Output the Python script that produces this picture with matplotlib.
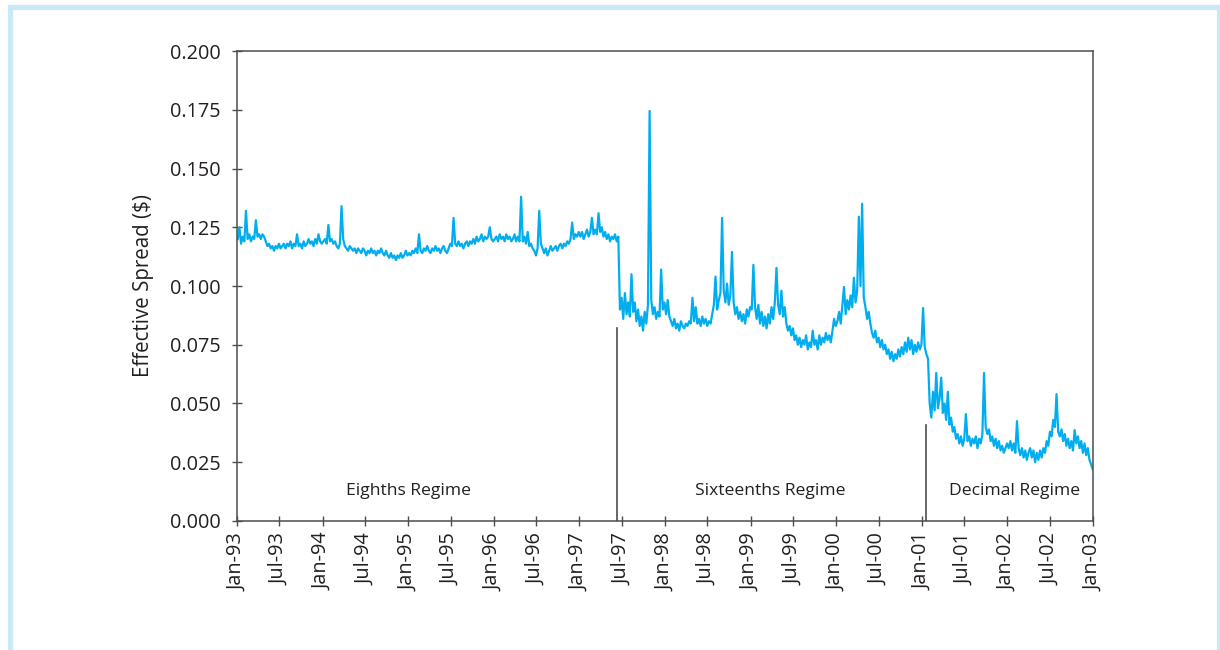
import matplotlib
matplotlib.use("Agg")
import matplotlib.pyplot as plt
import matplotlib.dates as mdates
import matplotlib.patches as patches
import pandas as pd

plt.rcParams['font.family'] = ['Open Sans', 'DejaVu Sans']

# weekly effective spread ($), one list per year
s1993 = [0.120, 0.125, 0.118, 0.121, 0.119, 0.132, 0.120, 0.122, 0.119, 0.121, 0.120, 0.128, 0.121,
         0.122, 0.120, 0.122, 0.121, 0.119, 0.117, 0.118, 0.116, 0.117, 0.115, 0.117, 0.116, 0.118,
         0.116, 0.117, 0.118, 0.116, 0.118, 0.117, 0.119, 0.116, 0.118, 0.117, 0.122, 0.117, 0.118,
         0.116, 0.119, 0.117, 0.118, 0.120, 0.118, 0.119, 0.117, 0.120, 0.118, 0.122, 0.119, 0.118]
s1994 = [0.119, 0.120, 0.118, 0.126, 0.119, 0.120, 0.118, 0.119, 0.117, 0.116, 0.118, 0.134, 0.120,
         0.117, 0.116, 0.115, 0.117, 0.116, 0.115, 0.116, 0.114, 0.116, 0.115, 0.114, 0.116, 0.115,
         0.113, 0.115, 0.114, 0.116, 0.114, 0.115, 0.113, 0.115, 0.114, 0.116, 0.114, 0.113, 0.115,
         0.113, 0.112, 0.114, 0.112, 0.113, 0.111, 0.113, 0.112, 0.114, 0.112, 0.113, 0.115, 0.113]
s1995 = [0.114, 0.113, 0.115, 0.114, 0.116, 0.114, 0.122, 0.115, 0.114, 0.116, 0.115, 0.117, 0.115,
         0.114, 0.116, 0.115, 0.117, 0.115, 0.116, 0.114, 0.116, 0.117, 0.115, 0.114, 0.116, 0.118,
         0.117, 0.129, 0.118, 0.117, 0.119, 0.117, 0.118, 0.116, 0.118, 0.119, 0.117, 0.119, 0.118,
         0.120, 0.118, 0.121, 0.119, 0.120, 0.122, 0.119, 0.121, 0.120, 0.121, 0.125, 0.120, 0.119]
s1996 = [0.120, 0.121, 0.119, 0.122, 0.120, 0.121, 0.119, 0.122, 0.120, 0.121, 0.119, 0.120, 0.122,
         0.119, 0.121, 0.119, 0.138, 0.119, 0.121, 0.118, 0.123, 0.117, 0.118, 0.116, 0.115, 0.113,
         0.116, 0.132, 0.118, 0.116, 0.114, 0.116, 0.113, 0.115, 0.117, 0.115, 0.116, 0.117, 0.115,
         0.117, 0.118, 0.116, 0.118, 0.117, 0.119, 0.118, 0.120, 0.127, 0.120, 0.122, 0.121, 0.123]
s1997 = [0.121, 0.123, 0.120, 0.122, 0.124, 0.121, 0.123, 0.129, 0.122, 0.124, 0.122, 0.131, 0.123,
         0.125, 0.121, 0.123, 0.120, 0.122, 0.119, 0.121, 0.120, 0.122, 0.119, 0.121, 0.090, 0.095,
         0.086, 0.097, 0.088, 0.093, 0.087, 0.105, 0.089, 0.093, 0.085, 0.090, 0.083, 0.087, 0.081,
         0.089, 0.084, 0.092, 0.1745, 0.094, 0.088, 0.091, 0.086, 0.089, 0.087, 0.107, 0.090, 0.093]
s1998 = [0.088, 0.094, 0.087, 0.085, 0.083, 0.086, 0.082, 0.084, 0.081, 0.085, 0.083, 0.082, 0.084,
         0.083, 0.085, 0.084, 0.095, 0.085, 0.091, 0.084, 0.086, 0.083, 0.087, 0.084, 0.086, 0.083,
         0.085, 0.084, 0.088, 0.092, 0.104, 0.090, 0.094, 0.097, 0.129, 0.098, 0.093, 0.101, 0.092,
         0.096, 0.1145, 0.093, 0.088, 0.091, 0.086, 0.089, 0.085, 0.088, 0.084, 0.090, 0.087, 0.091]
s1999 = [0.090, 0.109, 0.091, 0.086, 0.092, 0.084, 0.089, 0.083, 0.087, 0.082, 0.088, 0.084, 0.091,
         0.086, 0.093, 0.1077, 0.092, 0.088, 0.098, 0.087, 0.091, 0.084, 0.081, 0.083, 0.079, 0.082,
         0.077, 0.079, 0.075, 0.078, 0.074, 0.077, 0.075, 0.079, 0.073, 0.076, 0.074, 0.081, 0.075,
         0.077, 0.073, 0.079, 0.075, 0.078, 0.076, 0.080, 0.077, 0.079, 0.076, 0.081, 0.086, 0.083]
s2000 = [0.085, 0.089, 0.084, 0.092, 0.0996, 0.088, 0.094, 0.090, 0.096, 0.091, 0.1035, 0.093, 0.098,
         0.1295, 0.100, 0.135, 0.095, 0.091, 0.086, 0.089, 0.084, 0.080, 0.078, 0.081, 0.076, 0.078,
         0.074, 0.077, 0.073, 0.075, 0.071, 0.073, 0.069, 0.072, 0.068, 0.071, 0.069, 0.073, 0.070,
         0.074, 0.071, 0.076, 0.072, 0.078, 0.073, 0.077, 0.071, 0.075, 0.072, 0.076, 0.073, 0.075]
s2001 = [0.0906, 0.074, 0.071, 0.069, 0.050, 0.044, 0.055, 0.047, 0.063, 0.048, 0.052, 0.061, 0.046,
         0.050, 0.043, 0.055, 0.041, 0.044, 0.038, 0.040, 0.035, 0.037, 0.033, 0.036, 0.032, 0.035,
         0.0455, 0.034, 0.036, 0.032, 0.035, 0.033, 0.036, 0.031, 0.035, 0.033, 0.037, 0.063, 0.040,
         0.037, 0.039, 0.034, 0.036, 0.032, 0.035, 0.031, 0.034, 0.030, 0.032, 0.029, 0.031, 0.033]
s2002 = [0.031, 0.034, 0.030, 0.033, 0.029, 0.0425, 0.031, 0.028, 0.031, 0.027, 0.030, 0.026, 0.029,
         0.031, 0.027, 0.030, 0.025, 0.029, 0.026, 0.030, 0.027, 0.031, 0.029, 0.034, 0.032, 0.038,
         0.036, 0.043, 0.040, 0.054, 0.038, 0.036, 0.039, 0.034, 0.037, 0.032, 0.035, 0.031, 0.034,
         0.030, 0.0387, 0.033, 0.036, 0.031, 0.034, 0.029, 0.033, 0.028, 0.031, 0.026, 0.024, 0.022]

regime_names = ['Eighths Regime', 'Sixteenths Regime', 'Decimal Regime']
regime_starts = ['1997-06-10', '2001-01-17']   # tick size changes
regime_marker_tops = [0.082, 0.041]

spread = s1993 + s1994 + s1995 + s1996 + s1997 + s1998 + s1999 + s2000 + s2001 + s2002
dates = pd.date_range('1993-01-04', '2002-12-31', periods=len(spread))

fig = plt.figure(figsize=(12.2, 6.5), dpi=100)
ax = fig.add_axes([0.1943, 0.1985, 0.7016, 0.723])

ax.plot(dates, spread, color='#00aeef', linewidth=1.6)

for d, top in zip(regime_starts, regime_marker_tops):
    ax.plot([pd.Timestamp(d)] * 2, [0, top], color='#4d4d4d', linewidth=1.2)

label_dates = ['1995-01-01', '1999-03-25', '2002-02-02']
for name, d in zip(regime_names, label_dates):
    ax.text(pd.Timestamp(d), 0.0128, name, ha='center', va='center', fontsize=12.6, color='#231f20')

ax.set_xlim(pd.Timestamp('1993-01-01'), pd.Timestamp('2003-01-01'))
ax.set_ylim(0, 0.2)
ax.set_yticks([0.0, 0.025, 0.05, 0.075, 0.1, 0.125, 0.15, 0.175, 0.2])
ax.yaxis.set_major_formatter(matplotlib.ticker.FormatStrFormatter('%.3f'))
ax.xaxis.set_major_locator(mdates.MonthLocator(bymonth=[1, 7]))
ax.xaxis.set_major_formatter(mdates.DateFormatter('%b-%y'))
ax.tick_params(axis='both', direction='inout', length=7, width=1, color='#4d4d4d',
               labelsize=14.3, labelcolor='#231f20')
ax.tick_params(axis='y', pad=8)
ax.tick_params(axis='x', labelrotation=90, pad=5)
for sp in ax.spines.values():
    sp.set_color('#4d4d4d')
    sp.set_linewidth(1.1)

ax.set_ylabel('Effective Spread ($)', fontsize=14.8, color='#231f20')
ax.yaxis.set_label_coords(-0.097, 0.5)

# light blue frame around the figure
fig.patches.append(patches.Rectangle((9.7 / 1220, -0.05), 1209 / 1220, 1.0 - 6.5 / 650 + 0.05,
                                     transform=fig.transFigure, fill=False,
                                     edgecolor='#c8e9f8', linewidth=3.8))

fig.savefig('out.png', dpi=100)
